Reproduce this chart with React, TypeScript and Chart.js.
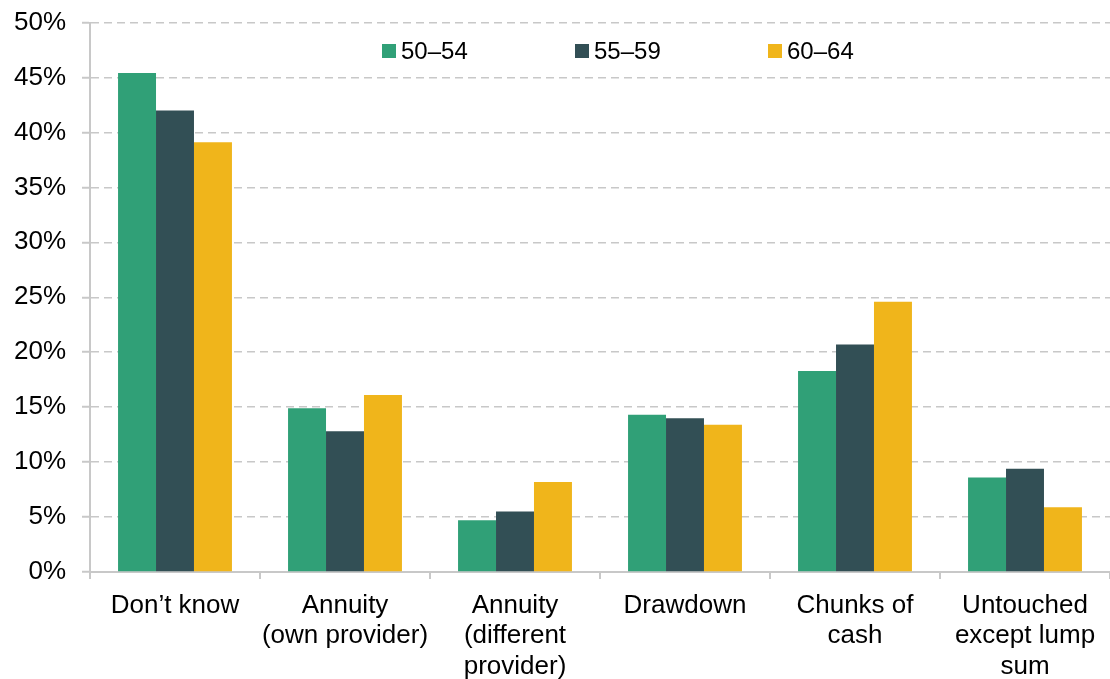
import React, { useEffect, useRef } from "react";
import { Chart, registerables } from "chart.js";

Chart.register(...registerables);

const categories: string[][] = [
  ["Don\u2019t know"],
  ["Annuity", "(own provider)"],
  ["Annuity", "(different", "provider)"],
  ["Drawdown"],
  ["Chunks of", "cash"],
  ["Untouched", "except lump", "sum"],
];

const seriesNames = ["50\u201354", "55\u201359", "60\u201364"];
const values5054 = [45.4, 14.9, 4.7, 14.3, 18.3, 8.6];
const values5559 = [42.0, 12.8, 5.5, 14.0, 20.7, 9.4];
const values6064 = [39.1, 16.1, 8.2, 13.4, 24.6, 5.9];
const colors = ["#30A077", "#324F55", "#F0B51B"];
const yTicks = [0, 5, 10, 15, 20, 25, 30, 35, 40, 45, 50];

const FONT = "'Liberation Sans', Arial, sans-serif";

const legendPlugin = {
  id: "insideLegend",
  afterDraw(chart: any) {
    const ctx = chart.ctx;
    ctx.save();
    ctx.font = `24px ${FONT}`;
    ctx.textBaseline = "middle";
    ctx.textAlign = "left";
    const startX = 382;
    const step = 193;
    const cy = 51;
    chart.data.datasets.forEach((ds: any, i: number) => {
      const x = startX + i * step;
      ctx.fillStyle = ds.backgroundColor;
      ctx.fillRect(x, cy - 7, 14, 14);
      ctx.fillStyle = "#000";
      ctx.fillText(ds.label, x + 19, cy + 1);
    });
    ctx.restore();
  },
};

export default function App() {
  const ref = useRef<HTMLCanvasElement | null>(null);
  useEffect(() => {
    if (!ref.current) return;
    const data = [values5054, values5559, values6064];
    const chart = new Chart(ref.current, {
      type: "bar",
      data: {
        labels: categories,
        datasets: seriesNames.map((name, i) => ({
          label: name,
          data: data[i],
          backgroundColor: colors[i],
          borderWidth: 0,
          categoryPercentage: 0.67,
          barPercentage: 1.0,
        })),
      },
      options: {
        animation: false,
        responsive: true,
        maintainAspectRatio: false,
        devicePixelRatio: 1,
        layout: { padding: { top: 0, right: 0, left: 0, bottom: 0 } },
        plugins: {
          legend: { display: false },
          tooltip: { enabled: false },
        },
        scales: {
          x: {
            grid: {
              display: true,
              drawOnChartArea: false,
              offset: true,
              color: "#c8c8c8",
              lineWidth: 2,
              tickLength: 7,
            },
            border: { display: true, color: "#c8c8c8", width: 2 },
            ticks: {
              color: "#000",
              font: { family: FONT, size: 26, lineHeight: 1.16 },
              padding: 12,
              maxRotation: 0,
              autoSkip: false,
            },
            afterFit: (scale: any) => {
              scale.height = 107;
            },
          },
          y: {
            min: 0,
            max: 50,
            afterBuildTicks: (scale: any) => {
              scale.ticks = yTicks.map((v) => ({ value: v }));
            },
            grid: {
              color: "#c8c8c8",
              lineWidth: 1.5,
              tickLength: 8,
              tickBorderDash: [],
              tickWidth: 2,
            },
            border: { display: true, color: "#c8c8c8", width: 2, dash: [8, 5] },
            ticks: {
              color: "#000",
              font: { family: FONT, size: 26, lineHeight: 0.5 },
              padding: 16,
              callback: (v: any) => `${v}%`,
            },
            afterFit: (scale: any) => {
              scale.width = 90;
            },
          },
        },
      },
      plugins: [legendPlugin],
    });
    return () => chart.destroy();
  }, []);
  return (
    <div style={{ position: "fixed", left: 0, top: 0, width: 1110, height: 679, background: "#fff" }}>
      <canvas ref={ref} />
    </div>
  );
}
